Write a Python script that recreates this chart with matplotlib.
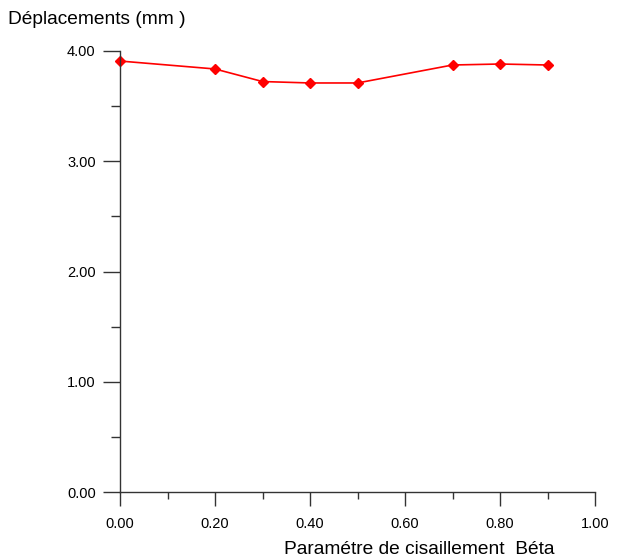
import matplotlib
matplotlib.use("Agg")
import matplotlib.pyplot as plt
from matplotlib.ticker import MultipleLocator, FormatStrFormatter

plt.rcParams['font.family'] = ['Liberation Sans', 'DejaVu Sans']

beta = [0.0, 0.2, 0.3, 0.4, 0.5, 0.7, 0.8, 0.9]
deplacement = [3.909, 3.837, 3.723, 3.710, 3.710, 3.873, 3.882, 3.873]

fig = plt.figure(figsize=(6.23, 5.59), dpi=100)
ax = fig.add_axes([120/623, 1 - 492/559, 475/623, 441/559])

ax.plot(beta, deplacement, color='#ff0000', lw=1.2, marker='D', ms=5.5,
        markerfacecolor='#ff0000', markeredgecolor='#ff0000', clip_on=False)

ax.set_xlim(0, 1.0)
ax.set_ylim(0, 4.0)
ax.xaxis.set_major_locator(MultipleLocator(0.2))
ax.xaxis.set_minor_locator(MultipleLocator(0.1))
ax.yaxis.set_major_locator(MultipleLocator(1.0))
ax.yaxis.set_minor_locator(MultipleLocator(0.5))
ax.xaxis.set_major_formatter(FormatStrFormatter('%.2f'))
ax.yaxis.set_major_formatter(FormatStrFormatter('%.2f'))

for s in ['top', 'right']:
    ax.spines[s].set_visible(False)
for s in ['left', 'bottom']:
    ax.spines[s].set_color('#333333')
    ax.spines[s].set_linewidth(1.0)

ax.tick_params(axis='x', which='major', direction='out', length=10, width=1,
               color='#333333', labelsize=10.5, pad=8)
ax.tick_params(axis='x', which='minor', direction='out', length=5, width=1,
               color='#333333')
ax.tick_params(axis='y', which='major', direction='out', length=12, width=1,
               color='#333333', labelsize=10.5, pad=5.5)
ax.tick_params(axis='y', which='minor', direction='out', length=6.5, width=1,
               color='#333333')

fig.text(8/623, 1 - 20/559, 'Déplacements (mm )', fontsize=13.8,
         ha='left', va='center')
fig.text(555/623, 1 - 549/559, 'Paramétre de cisaillement  Béta', fontsize=13.8,
         ha='right', va='center')

fig.savefig('out.png', dpi=100)
